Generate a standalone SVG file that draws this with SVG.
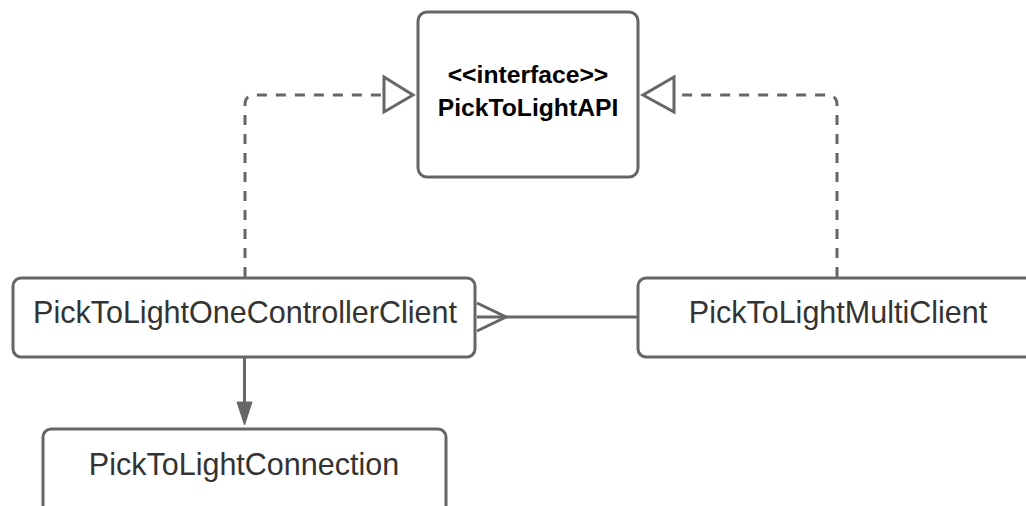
<svg xmlns="http://www.w3.org/2000/svg" width="1026" height="506" viewBox="0 0 1026 506">
  <style>
    .box { fill: #ffffff; stroke: #666666; stroke-width: 3; }
    .label { font-family: "Liberation Sans", Arial, sans-serif; font-size: 30.5px; fill: #333333; text-anchor: middle; }
    .iface { font-family: "Liberation Sans", Arial, sans-serif; font-size: 24.7px; font-weight: bold; fill: #000000; text-anchor: middle; }
    .line { fill: none; stroke: #666666; stroke-width: 3; }
    .dashed { stroke-dasharray: 10 9; }
    .hollow { fill: #ffffff; stroke: #666666; stroke-width: 3; stroke-linejoin: miter; }
    .solid { fill: #666666; stroke: #666666; stroke-width: 1; }
  </style>
  <rect width="1026" height="506" fill="#ffffff"/>

  <g id="connectors">
    <!-- realization: one-controller client to the interface -->
    <path class="line dashed" d="M245,277 V105 Q245,95 255,95 H384"/>
    <polygon class="hollow" points="384,77 413,95 384,112"/>
    <!-- realization: multi client to the interface -->
    <path class="line dashed" d="M837,277 V105 Q837,95 827,95 H674"/>
    <polygon class="hollow" points="674,77 643,95 674,112"/>
    <!-- association with crow's foot at the one-controller end -->
    <path class="line" d="M477,317 H638"/>
    <path class="line" d="M477,303 L506,317 L477,331"/>
    <!-- dependency: one-controller client to connection -->
    <path class="line" d="M244.5,358 V404"/>
    <polygon class="solid" points="237,402 252,402 244.5,425"/>
  </g>

  <g id="node-api">
    <rect class="box" x="418" y="12" width="220" height="165" rx="9"/>
    <text class="iface" x="528" y="83">&lt;&lt;interface&gt;&gt;</text>
    <text class="iface" x="528" y="116">PickToLightAPI</text>
  </g>

  <g id="node-one-controller">
    <rect class="box" x="13" y="278" width="462" height="79" rx="8"/>
    <text class="label" x="245" y="323">PickToLightOneControllerClient</text>
  </g>

  <g id="node-multi">
    <rect class="box" x="638" y="278" width="400" height="79" rx="8"/>
    <text class="label" x="838" y="323">PickToLightMultiClient</text>
  </g>

  <g id="node-connection">
    <rect class="box" x="43" y="429" width="403" height="90" rx="8"/>
    <text class="label" x="244" y="475">PickToLightConnection</text>
  </g>
</svg>
